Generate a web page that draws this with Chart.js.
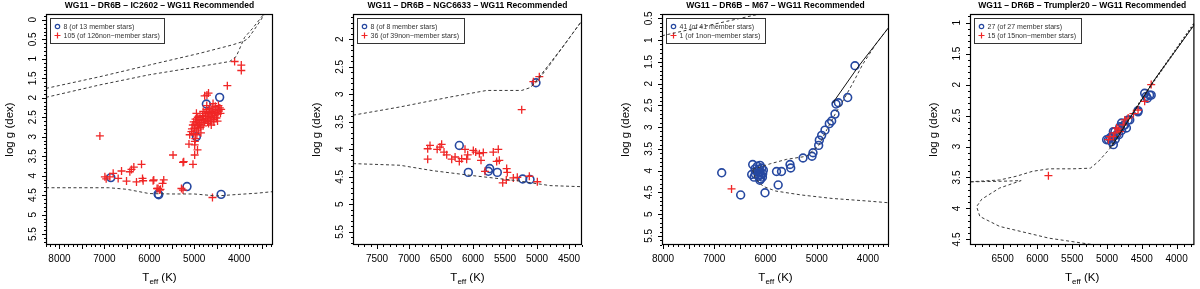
<!DOCTYPE html>
<html>
<head>
<meta charset="utf-8">
<title>WG11 DR6B cluster HR diagrams</title>
<script src="https://cdn.jsdelivr.net/npm/chart.js@4.4.1/dist/chart.umd.min.js"></script>
<style>
  html, body { margin: 0; padding: 0; background: #fff; }
  #wrap { position: relative; width: 1200px; height: 289px; overflow: hidden; }
  .panel { position: absolute; top: 0; width: 300px; height: 289px; }
</style>
</head>
<body>
<div id="wrap">
  <div class="panel" style="left:0px"><canvas id="c1" width="300" height="289"></canvas></div>
  <div class="panel" style="left:300px"><canvas id="c2" width="300" height="289"></canvas></div>
  <div class="panel" style="left:600px"><canvas id="c3" width="300" height="289"></canvas></div>
  <div class="panel" style="left:900px"><canvas id="c4" width="300" height="289"></canvas></div>
</div>
<script>
// ---------- data: [Teff (K), log g (dex)] ----------

// IC2602
const ic2602Members = [[4729,2.16],[4433,1.99],[4951,3.00],[6856,4.05],[5804,4.47],[5160,4.28],[4400,4.48],[5790,4.49]];
const ic2602NonMembers = [
  // scattered stars
  [7100,2.98],[4100,1.07],[3951,1.16],[3951,1.30],[4262,1.69],[4716,1.93],[4681,1.88],[4767,1.95],
  [5062,2.87],[5010,2.92],[5116,3.19],[4989,3.21],[4926,3.34],[4989,3.47],[5471,3.47],[5233,3.64],[5027,3.71],[4985,3.12],
  [5900,4.11],[5678,4.11],[5704,4.20],[5804,4.33],[5767,4.37],[5249,4.37],[4593,4.56],[5284,4.33],
  [6989,4.03],[6878,4.03],[6804,3.94],[6693,4.07],[6618,3.88],[6433,3.90],[6396,3.84],[6344,3.78],[6173,3.71],
  [6507,4.14],[6285,4.16],[6151,4.07],[6137,4.13],[5915,4.13],[5827,4.33],[5751,4.35],[5249,3.66],[6960,4.08],
  // red clump, hotter part
  [5050,2.80],[5030,2.70],[5010,2.62],[4995,2.78],[4980,2.68],[4970,2.55],[4955,2.85],[4945,2.62],[4930,2.72],
  [4920,2.50],[4905,2.80],[4895,2.58],[4880,2.68],[4870,2.47],[4860,2.76],[4845,2.56],[4830,2.64],[4815,2.46],
  [4800,2.72],[4790,2.55],[4770,2.62],[4750,2.48],
  // red clump, cooler part
  [4760,2.40],[4740,2.58],[4725,2.30],[4710,2.48],[4700,2.62],[4690,2.38],[4675,2.52],[4660,2.28],[4650,2.44],
  [4640,2.60],[4625,2.35],[4610,2.50],[4600,2.24],[4590,2.40],[4575,2.56],[4560,2.32],[4545,2.46],[4530,2.22],
  [4520,2.38],[4505,2.52],[4490,2.30],[4475,2.42],[4460,2.20],[4450,2.34],[4430,2.26],[4415,2.40],[4680,2.66],
  [4560,2.62],[4940,2.95],[4975,3.05],[5100,2.95],[4850,2.90],[4620,2.70],[4480,2.60],[4400,2.30],[4720,2.20],
  [4800,2.35],[4580,2.15],[4950,2.40]
];
const ic2602IsoUpper = [[8300,1.76],[7100,1.46],[6000,1.16],[4880,0.86],[4140,0.64],[3900,0.55],[3800,0.48],[3600,0.15],[3400,-0.20]];
const ic2602IsoLower = [[8300,1.99],[7100,1.67],[6000,1.41],[4880,1.20],[4211,1.07],[4063,0.94],[3878,0.45],[3700,0.22],[3400,-0.22]];
const ic2602IsoMS = [[8300,4.31],[7500,4.31],[6900,4.31],[6500,4.35],[6000,4.46],[5500,4.47],[5000,4.47],[4500,4.52],[4000,4.48],[3600,4.45],[3245,4.41]];

// NGC6633
const ngc6633Members = [[5016,2.79],[6214,3.93],[6073,4.42],[5740,4.35],[5760,4.40],[5620,4.42],[5224,4.54],[5109,4.55]];
const ngc6633NonMembers = [
  [6708,3.99],[6708,4.18],[6516,3.96],[6453,4.05],[6411,4.10],[6333,4.18],[6214,4.22],[6177,4.17],[6125,4.00],
  [6099,4.18],[6083,4.10],[5995,4.02],[5958,4.05],[5875,4.20],[5839,4.06],[5813,4.40],[5683,4.05],[5605,4.00],
  [5589,4.20],[5630,4.22],[5474,4.35],[5464,4.42],[5536,4.61],[5370,4.52],[5308,4.51],[5120,4.49],[4995,4.59],
  [4964,2.68],[5057,2.77],[5239,3.28],[6672,3.93],[6490,3.91],[6560,4.00],[6280,4.14],[5900,4.08],[5480,4.56]
];
const ngc6633IsoGiantA = [[7875,3.38],[7141,3.23],[6359,3.05],[5786,2.93],[5239,2.93],[5109,2.88],[5005,2.77],[4823,2.50],[4328,1.71]];
const ngc6633IsoGiantB = [[5080,2.85],[4920,2.62],[4600,2.14],[4297,1.66]];
const ngc6633IsoMS = [[7875,4.26],[7141,4.29],[6620,4.39],[5995,4.48],[5317,4.57],[4797,4.66],[4297,4.68]];

// M67
const m67Members = [
  [4254,1.59],[4396,2.32],[4578,2.44],[4624,2.47],[4644,2.70],[4709,2.86],[4755,2.92],[4839,3.07],[4904,3.19],
  [4950,3.30],[4963,3.42],[5073,3.59],[5093,3.67],[5268,3.71],[5522,3.86],[5508,3.94],[5688,4.02],[5785,4.02],
  [5753,4.33],[6010,4.51],[6485,4.56],[6855,4.05],[6250,3.86],[6270,4.09],[6205,3.96],[6107,3.88],[6075,3.94],
  [6107,4.03],[6055,4.07],[6140,4.13],[6094,4.19],[6172,4.02],[6120,3.97],[6042,3.99],[6224,4.15],[6160,3.90],
  [6090,4.10],[6130,4.05],[6060,4.15],[6200,4.08],[6110,4.22]
];
const m67NonMembers = [[6663,4.42]];
const m67IsoSolid = [[4690,2.45],[4190,1.61],[3590,0.70]];
const m67IsoGiant = [[6250,3.97],[5900,3.84],[5585,3.74],[5195,3.67],[4960,3.42],[4800,3.05],[4650,2.72],[4500,2.42],[4300,2.00],[4100,1.55],[3850,1.10],[3590,0.70]];
const m67IsoMS = [[6250,3.98],[6200,4.18],[6050,4.36],[5800,4.47],[5300,4.56],[4700,4.64],[4000,4.70],[3590,4.74]];
const m67IsoHot = [[8020,0.90],[6000,0.37]];

// Trumpler20
const tr20Members = [
  [4436,2.19],[4365,2.17],[4459,2.14],[4388,2.17],[4554,2.42],[4696,2.57],[4791,2.62],[4815,2.70],[4909,2.76],
  [4933,2.84],[4862,2.81],[4980,2.89],[4554,2.44],[4673,2.57],[4744,2.65],[4815,2.68],[4886,2.76],[4957,2.86],
  [4933,2.92],[4909,2.97],[4791,2.74],[4721,2.70],[4830,2.81],[5006,2.89],[4420,2.22],[4760,2.66],[4880,2.88]
];
const tr20NonMembers = [
  [4365,2.00],[4459,2.27],[4554,2.41],[4696,2.54],[4767,2.65],[4815,2.76],[4886,2.78],[4957,2.84],[4980,2.89],
  [4862,2.70],[4744,2.57],[4909,2.84],[5842,3.47],[4620,2.47],[4840,2.72]
];
const tr20IsoGiant = [[4933,3.00],[4317,1.92],[3749,1.04]];
const tr20IsoGiantDash = [[4960,3.02],[4330,1.95],[3740,1.00]];
const tr20IsoSubgiant = [[6969,3.57],[6543,3.54],[6305,3.48],[6070,3.40],[5832,3.36],[5501,3.36],[5240,3.35],[5122,3.24],[4933,3.00]];
const tr20IsoMS = [[5000,4.63],[5169,4.59],[5832,4.48],[6543,4.29],[6827,4.13],[6874,3.97],[6800,3.85],[6543,3.67],[6234,3.55],[6500,3.56],[6969,3.57]];

// tick labels
const ic2602XTicks = [8000, 7000, 6000, 5000, 4000];
const ic2602YTicks = [0, 0.5, 1, 1.5, 2, 2.5, 3, 3.5, 4, 4.5, 5, 5.5];
const ngc6633XTicks = [7500, 7000, 6500, 6000, 5500, 5000, 4500];
const ngc6633YTicks = [2, 2.5, 3, 3.5, 4, 4.5, 5, 5.5];
const m67XTicks = [8000, 7000, 6000, 5000, 4000];
const m67YTicks = [0.5, 1, 1.5, 2, 2.5, 3, 3.5, 4, 4.5, 5, 5.5];
const tr20XTicks = [6500, 6000, 5500, 5000, 4500, 4000];
const tr20YTicks = [1, 1.5, 2, 2.5, 3, 3.5, 4, 4.5];

// ---------- drawing ----------
const FONT = '"Liberation Sans", Arial, Helvetica, sans-serif';
const BLUE = 'rgb(38,72,160)';
const RED = 'rgb(240,38,38)';
const ISO = '#3a3a3a';

const toXY = arr => arr.map(p => ({ x: p[0], y: p[1] }));

// box, R-style outward ticks, tick labels, titles and the legend
const framePlugin = {
  id: 'frame',
  beforeDatasetsDraw(chart, args, opts) {
    const { ctx, chartArea: a } = chart;
    const items = chart.data.datasets.filter(d => d.label).sort((p, q) => p.legendRank - q.legendRank);
    ctx.save();
    ctx.font = '7px ' + FONT;
    const tw = Math.max(...items.map(d => ctx.measureText(d.label).width));
    const bx = a.left + 4.5, by = a.top + 4.5, bw = Math.round(tw + 18), bh = 25;
    ctx.fillStyle = '#fff';
    ctx.fillRect(bx, by, bw, bh);
    ctx.strokeStyle = '#333';
    ctx.lineWidth = 1;
    ctx.strokeRect(bx, by, bw, bh);
    items.forEach((d, i) => {
      const cy = by + 8 + i * 9, cx = bx + 7;
      ctx.strokeStyle = d.borderColor;
      ctx.lineWidth = 1.2;
      ctx.beginPath();
      if (d.pointStyle === 'circle') {
        ctx.arc(cx, cy, 2.2, 0, Math.PI * 2);
      } else {
        ctx.moveTo(cx - 3, cy); ctx.lineTo(cx + 3, cy);
        ctx.moveTo(cx, cy - 3); ctx.lineTo(cx, cy + 3);
      }
      ctx.stroke();
      ctx.fillStyle = '#333';
      ctx.textAlign = 'left';
      ctx.textBaseline = 'middle';
      ctx.fillText(d.label, bx + 13, cy + 0.5);
    });
    ctx.restore();
  },
  afterDraw(chart, args, opts) {
    const { ctx, chartArea: a, scales: { x, y } } = chart;
    ctx.save();
    ctx.strokeStyle = '#000';
    ctx.fillStyle = '#000';
    ctx.lineWidth = 1.2;
    ctx.strokeRect(a.left + 0.5, a.top + 0.5, a.right - a.left - 1, a.bottom - a.top - 1);

    ctx.lineWidth = 1;
    const isMajor = (v, step) => Math.abs(v / step - Math.round(v / step)) < 1e-6;
    // x ticks
    for (let k = Math.ceil(x.min / opts.xMinor); k * opts.xMinor <= x.max; k++) {
      const v = k * opts.xMinor;
      const px = Math.round(x.getPixelForValue(v)) + 0.5;
      const len = isMajor(v, opts.xMajor) ? 4 : 2;
      ctx.beginPath();
      ctx.moveTo(px, a.bottom);
      ctx.lineTo(px, a.bottom + len);
      ctx.stroke();
    }
    // y ticks
    for (let k = Math.ceil(y.min / 0.1 - 1e-6); k * 0.1 <= y.max + 1e-6; k++) {
      const v = Math.round(k) / 10;
      const py = Math.round(y.getPixelForValue(v)) + 0.5;
      const len = isMajor(v, 0.5) ? 4 : 2;
      ctx.beginPath();
      ctx.moveTo(a.left, py);
      ctx.lineTo(a.left - len, py);
      ctx.stroke();
    }

    ctx.font = '10px ' + FONT;
    ctx.textAlign = 'center';
    ctx.textBaseline = 'middle';
    opts.xTicks.forEach(v => ctx.fillText(String(v), x.getPixelForValue(v), a.bottom + 14));
    opts.yTicks.forEach(v => {
      ctx.save();
      ctx.translate(a.left - 13, y.getPixelForValue(v));
      ctx.rotate(-Math.PI / 2);
      ctx.fillText(String(v), 0, 0);
      ctx.restore();
    });

    // title
    const cxm = (a.left + a.right) / 2;
    ctx.font = 'bold 8.5px ' + FONT;
    ctx.fillText(opts.title, cxm, 6);

    // y axis title
    ctx.font = '11.5px ' + FONT;
    ctx.save();
    ctx.translate(a.left - 36, (a.top + a.bottom) / 2);
    ctx.rotate(-Math.PI / 2);
    ctx.fillText('log g (dex)', 0, 0);
    ctx.restore();

    // x axis title: T_eff (K)
    const big = '11.5px ' + FONT, small = '8px ' + FONT;
    ctx.font = big;
    const wT = ctx.measureText('T').width, wK = ctx.measureText(' (K)').width;
    ctx.font = small;
    const wE = ctx.measureText('eff').width;
    let tx = cxm - (wT + wE + wK) / 2;
    const ty = a.bottom + 33;
    ctx.textAlign = 'left';
    ctx.font = big; ctx.fillText('T', tx, ty); tx += wT;
    ctx.font = small; ctx.fillText('eff', tx, ty + 3.5); tx += wE;
    ctx.font = big; ctx.fillText(' (K)', tx, ty);
    ctx.restore();
  }
};

function makePanel(id, cfg) {
  const datasets = [];
  cfg.lines.forEach(l => datasets.push({
    data: toXY(l.pts),
    showLine: true,
    pointRadius: 0,
    borderColor: l.color || ISO,
    borderWidth: l.width || 1,
    borderDash: l.dash || [],
    fill: false
  }));
  datasets.push({
    label: cfg.nonLabel,
    legendRank: 2,
    data: toXY(cfg.non),
    pointStyle: 'cross',
    pointRadius: 4,
    borderColor: RED,
    borderWidth: 1.3,
    showLine: false
  });
  datasets.push({
    label: cfg.memLabel,
    legendRank: 1,
    data: toXY(cfg.mem),
    pointStyle: 'circle',
    pointRadius: 3.9,
    backgroundColor: 'rgba(0,0,0,0)',
    borderColor: BLUE,
    borderWidth: 1.6,
    showLine: false
  });

  return new Chart(document.getElementById(id), {
    type: 'scatter',
    data: { datasets },
    options: {
      responsive: false,
      animation: false,
      events: [],
      layout: { padding: cfg.pad },
      plugins: {
        legend: { display: false },
        tooltip: { enabled: false },
        frame: {
          title: cfg.title,
          xTicks: cfg.xTicks, yTicks: cfg.yTicks,
          xMajor: 500, xMinor: 100
        }
      },
      scales: {
        x: { type: 'linear', display: false, reverse: true, min: cfg.xRange[0], max: cfg.xRange[1] },
        y: { type: 'linear', display: false, reverse: true, min: cfg.yRange[0], max: cfg.yRange[1] }
      }
    },
    plugins: [framePlugin]
  });
}

const dashed = [3, 2.5];

makePanel('c1', {
  title: 'WG11 – DR6B – IC2602 – WG11 Recommended',
  memLabel: '8 (of 13 member stars)',
  nonLabel: '105 (of 126non−member stars)',
  mem: ic2602Members, non: ic2602NonMembers,
  lines: [
    { pts: ic2602IsoUpper, dash: dashed },
    { pts: ic2602IsoLower, dash: dashed },
    { pts: ic2602IsoMS, dash: dashed }
  ],
  xTicks: ic2602XTicks, yTicks: ic2602YTicks,
  xRange: [3245, 8300], yRange: [-0.15, 5.78],
  pad: { left: 46, right: 27, top: 14, bottom: 44 }
});

makePanel('c2', {
  title: 'WG11 – DR6B – NGC6633 – WG11 Recommended',
  memLabel: '8 (of 8 member stars)',
  nonLabel: '36 (of 39non−member stars)',
  mem: ngc6633Members, non: ngc6633NonMembers,
  lines: [
    { pts: ngc6633IsoGiantA, dash: dashed },
    { pts: ngc6633IsoGiantB, dash: dashed },
    { pts: ngc6633IsoMS, dash: dashed }
  ],
  xTicks: ngc6633XTicks, yTicks: ngc6633YTicks,
  xRange: [4297, 7875], yRange: [1.54, 5.74],
  pad: { left: 53, right: 18, top: 14, bottom: 44 }
});

makePanel('c3', {
  title: 'WG11 – DR6B – M67 – WG11 Recommended',
  memLabel: '41 (of 41 member stars)',
  nonLabel: '1 (of 1non−member stars)',
  mem: m67Members, non: m67NonMembers,
  lines: [
    { pts: m67IsoSolid, color: '#111' },
    { pts: m67IsoGiant, dash: dashed },
    { pts: m67IsoMS, dash: dashed },
    { pts: m67IsoHot, dash: dashed }
  ],
  xTicks: m67XTicks, yTicks: m67YTicks,
  xRange: [3590, 8020], yRange: [0.40, 5.71],
  pad: { left: 62, right: 11, top: 14, bottom: 44 }
});

makePanel('c4', {
  title: 'WG11 – DR6B – Trumpler20 – WG11 Recommended',
  memLabel: '27 (of 27 member stars)',
  nonLabel: '15 (of 15non−member stars)',
  mem: tr20Members, non: tr20NonMembers,
  lines: [
    { pts: tr20IsoGiant, color: '#111' },
    { pts: tr20IsoGiantDash, dash: [2, 2], width: 1.6 },
    { pts: tr20IsoSubgiant, dash: dashed },
    { pts: tr20IsoMS, dash: dashed }
  ],
  xTicks: tr20XTicks, yTicks: tr20YTicks,
  xRange: [3744, 6969], yRange: [0.86, 4.59],
  pad: { left: 70, right: 3, top: 14, bottom: 44 }
});
</script>
</body>
</html>
